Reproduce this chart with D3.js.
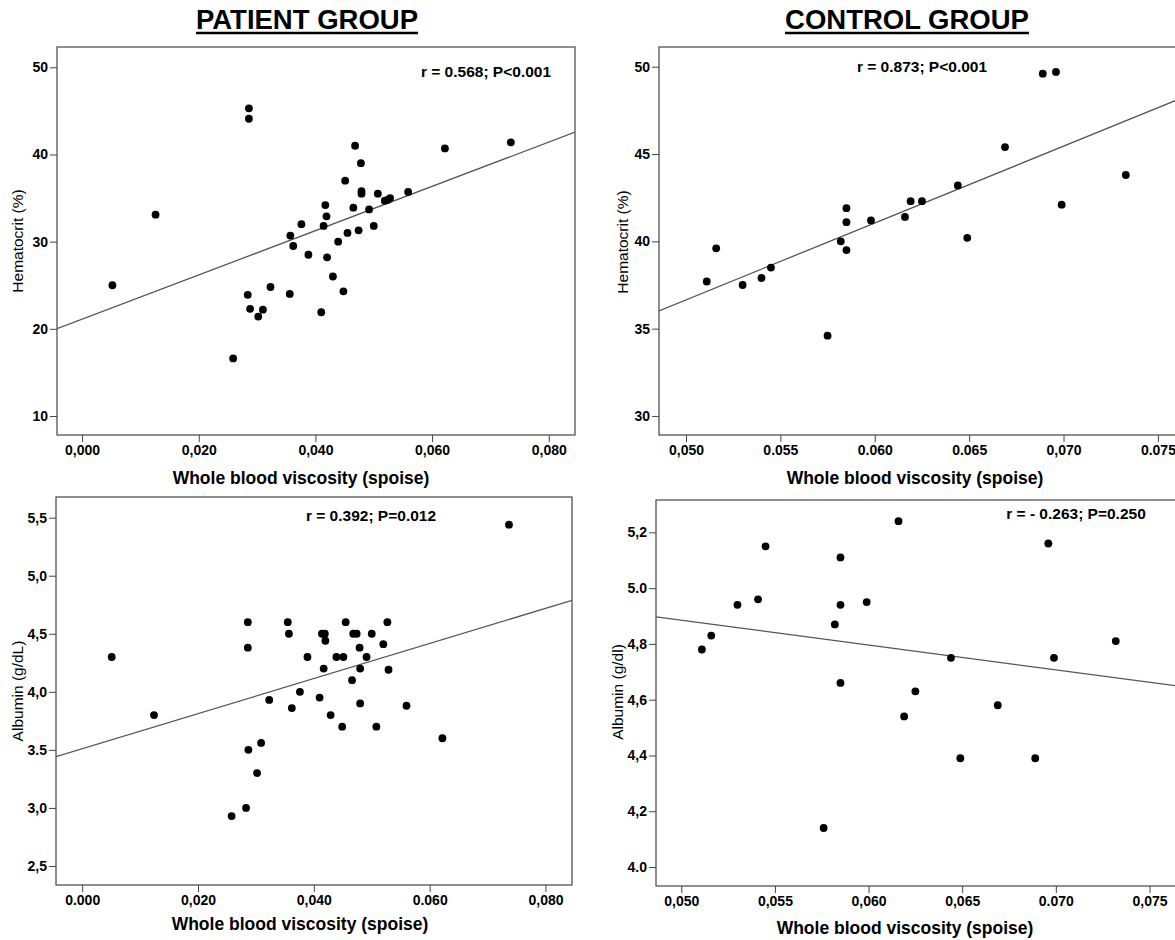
<!DOCTYPE html>
<html>
<head>
<meta charset="utf-8">
<script src="https://cdn.jsdelivr.net/npm/d3@7"></script>
<style>
  body { margin: 0; background: #fff; }
  text { font-family: 'Liberation Sans', Arial, sans-serif; }
</style>
</head>
<body>
<div id="chart"></div>
<script>
// patient group, hematocrit vs viscosity
let patHctVisc = [0.0052, 0.0126, 0.0286, 0.0286, 0.0284, 0.0288, 0.0302, 0.0310, 0.0323, 0.0259,
  0.0357, 0.0362, 0.0356, 0.0376, 0.0388, 0.0410, 0.0414, 0.0417, 0.0419, 0.0420,
  0.0430, 0.0439, 0.0448, 0.0451, 0.0455, 0.0465, 0.0468, 0.0474, 0.0478, 0.0479,
  0.0479, 0.0492, 0.0500, 0.0507, 0.0519, 0.0524, 0.0528, 0.0559, 0.0622, 0.0735]
let patHct = [25.0, 33.1, 45.3, 44.1, 23.9, 22.3, 21.4, 22.2, 24.8, 16.6,
  30.7, 29.5, 24.0, 32.0, 28.5, 21.9, 31.8, 34.2, 32.9, 28.2,
  26.0, 30.0, 24.3, 37.0, 31.0, 33.9, 41.0, 31.3, 39.0, 35.8,
  35.5, 33.7, 31.8, 35.5, 34.7, 34.8, 35.0, 35.7, 40.7, 41.4]

// patient group, albumin vs viscosity
let patAlbVisc = [0.0051, 0.0124, 0.0286, 0.0286, 0.0287, 0.0283, 0.0258, 0.0302, 0.0309, 0.0323,
  0.0355, 0.0357, 0.0362, 0.0376, 0.0389, 0.0410, 0.0414, 0.0419, 0.0420, 0.0417,
  0.0429, 0.0439, 0.0449, 0.0451, 0.0455, 0.0466, 0.0468, 0.0474, 0.0479, 0.0480,
  0.0480, 0.0491, 0.0500, 0.0508, 0.0520, 0.0527, 0.0529, 0.0560, 0.0622, 0.0737]
let patAlb = [4.30, 3.80, 4.60, 4.38, 3.50, 3.00, 2.93, 3.30, 3.56, 3.93,
  4.60, 4.50, 3.86, 4.00, 4.30, 3.95, 4.50, 4.50, 4.44, 4.20,
  3.80, 4.30, 3.70, 4.30, 4.60, 4.10, 4.50, 4.50, 4.38, 4.20,
  3.90, 4.30, 4.50, 3.70, 4.41, 4.60, 4.19, 3.88, 3.60, 5.44]

// control group, hematocrit vs viscosity
let conHctVisc = [0.0511, 0.0516, 0.0530, 0.0540, 0.0545, 0.0575, 0.0582, 0.0585, 0.0585, 0.0585,
  0.0598, 0.0616, 0.0619, 0.0625, 0.0644, 0.0649, 0.0669, 0.0689, 0.0696, 0.0699, 0.0733]
let conHct = [37.7, 39.6, 37.5, 37.9, 38.5, 34.6, 40.0, 39.5, 41.1, 41.9,
  41.2, 41.4, 42.3, 42.3, 43.2, 40.2, 45.4, 49.6, 49.7, 42.1, 43.8]

// control group, albumin vs viscosity
let conAlbVisc = [0.0511, 0.0516, 0.0530, 0.0541, 0.0545, 0.0576, 0.0582, 0.0585, 0.0585, 0.0585,
  0.0599, 0.0616, 0.0619, 0.0625, 0.0644, 0.0649, 0.0669, 0.0689, 0.0696, 0.0699, 0.0732]
let conAlb = [4.78, 4.83, 4.94, 4.96, 5.15, 4.14, 4.87, 4.94, 5.11, 4.66,
  4.95, 5.24, 4.54, 4.63, 4.75, 4.39, 4.58, 4.39, 5.16, 4.75, 4.81]

// fitted lines: [intercept, slope]
let patHctFit = [21.1, 254]
let patAlbFit = [3.51, 15.1]
let conHctFit = [14.65, 440]
let conAlbFit = [5.33, -8.9]

// ticks
let patXTicks = [0, 0.02, 0.04, 0.06, 0.08]
let patHctXLabels = ['0,000', '0,020', '0,040', '0,060', '0,080']
let patAlbXLabels = ['0.000', '0,020', '0,040', '0.060', '0,080']
let conXTicks = [0.05, 0.055, 0.06, 0.065, 0.07, 0.075]
let conHctXLabels = ['0,050', '0.055', '0.060', '0.065', '0,070', '0.075']
let conAlbXLabels = ['0,050', '0,055', '0,060', '0,065', '0.070', '0,075']
let patHctYTicks = [10, 20, 30, 40, 50]
let conHctYTicks = [30, 35, 40, 45, 50]
let patAlbYTicks = [2.5, 3.0, 3.5, 4.0, 4.5, 5.0, 5.5]
let patAlbYLabels = ['2,5', '3,0', '3.5', '4,0', '4,5', '5,0', '5,5']
let conAlbYTicks = [4.0, 4.2, 4.4, 4.6, 4.8, 5.0, 5.2]
let conAlbYLabels = ['4.0', '4,2', '4,4', '4,6', '4,8', '5.0', '5,2']

let width = 1175
let height = 940

let svg = d3
  .select('#chart')
  .append('svg')
  .attr('width', width)
  .attr('height', height)

let ink = '#000'
let frameColor = '#444'

// group headings
let headings = [
  { text: 'PATIENT GROUP', x: 307 },
  { text: 'CONTROL GROUP', x: 907 }
]
headings.forEach(h => {
  let t = svg
    .append('text')
    .attr('x', h.x)
    .attr('y', 29)
    .attr('text-anchor', 'middle')
    .attr('font-size', 27.5)
    .attr('font-weight', 'bold')
    .attr('fill', ink)
    .text(h.text)
  let w = t.node().getComputedTextLength()
  svg
    .append('line')
    .attr('x1', h.x - w / 2)
    .attr('x2', h.x + w / 2)
    .attr('y1', 33)
    .attr('y2', 33)
    .attr('stroke', ink)
    .attr('stroke-width', 2.4)
})

let panels = [
  {
    id: 'p1', left: 57, right: 575, top: 47, bottom: 435,
    xDomain: [-0.0043, 0.0845], yDomain: [7.82, 52.33],
    xs: patHctVisc, ys: patHct, fit: patHctFit,
    xTicks: patXTicks, xLabels: patHctXLabels,
    yTicks: patHctYTicks, yLabels: patHctYTicks.map(String),
    yTitle: 'Hematocrit (%)', yTitleX: 17, yTitleY: 241,
    xTitleX: 301, xTitleY: 478,
    note: 'r = 0.568; P<0.001', noteX: 486, noteY: 71
  },
  {
    id: 'p2', left: 659, right: 1180, top: 47, bottom: 435,
    xDomain: [0.04857, 0.07617], yDomain: [28.91, 51.13],
    xs: conHctVisc, ys: conHct, fit: conHctFit,
    xTicks: conXTicks, xLabels: conHctXLabels,
    yTicks: conHctYTicks, yLabels: conHctYTicks.map(String),
    yTitle: 'Hematocrit (%)', yTitleX: 622, yTitleY: 242,
    xTitleX: 915, xTitleY: 478,
    note: 'r = 0.873; P<0.001', noteX: 922, noteY: 66
  },
  {
    id: 'p3', left: 56, right: 572, top: 497, bottom: 885,
    xDomain: [-0.00452, 0.08458], yDomain: [2.336, 5.678],
    xs: patAlbVisc, ys: patAlb, fit: patAlbFit,
    xTicks: patXTicks, xLabels: patAlbXLabels,
    yTicks: patAlbYTicks, yLabels: patAlbYLabels,
    yTitle: 'Albumin (g/dL)', yTitleX: 17, yTitleY: 691,
    xTitleX: 300, xTitleY: 924,
    note: 'r = 0.392; P=0.012', noteX: 371, noteY: 515
  },
  {
    id: 'p4', left: 656, right: 1180, top: 500, bottom: 886,
    xDomain: [0.04865, 0.07663], yDomain: [3.932, 5.316],
    xs: conAlbVisc, ys: conAlb, fit: conAlbFit,
    xTicks: conXTicks, xLabels: conAlbXLabels,
    yTicks: conAlbYTicks, yLabels: conAlbYLabels,
    yTitle: 'Albumin (g/dl)', yTitleX: 617, yTitleY: 692,
    xTitleX: 905, xTitleY: 928,
    note: 'r = - 0.263; P=0.250', noteX: 1076, noteY: 513
  }
]

panels.forEach(p => {
  let x = d3.scaleLinear().domain(p.xDomain).range([p.left, p.right])
  let y = d3.scaleLinear().domain(p.yDomain).range([p.bottom, p.top])

  let g = svg.append('g')

  g.append('clipPath')
    .attr('id', 'clip-' + p.id)
    .append('rect')
    .attr('x', p.left)
    .attr('y', p.top)
    .attr('width', p.right - p.left)
    .attr('height', p.bottom - p.top)

  // axes
  let xAxis = g
    .append('g')
    .attr('transform', `translate(0,${p.bottom})`)
    .call(
      d3.axisBottom(x)
        .tickValues(p.xTicks)
        .tickSize(7)
        .tickPadding(3)
        .tickFormat((d, i) => p.xLabels[i])
    )
  let yAxis = g
    .append('g')
    .attr('transform', `translate(${p.left},0)`)
    .call(
      d3.axisLeft(y)
        .tickValues(p.yTicks)
        .tickSize(7)
        .tickPadding(2)
        .tickFormat((d, i) => p.yLabels[i])
    )
  ;[xAxis, yAxis].forEach(a => {
    a.select('.domain').remove()
    a.selectAll('line').attr('stroke', frameColor)
    a.selectAll('text')
      .attr('fill', ink)
      .attr('font-size', 14)
      .attr('font-weight', 'bold')
      .style('font-family', "'Liberation Sans', Arial, sans-serif")
  })

  // frame
  g.append('rect')
    .attr('x', p.left)
    .attr('y', p.top)
    .attr('width', p.right - p.left)
    .attr('height', p.bottom - p.top)
    .attr('fill', 'none')
    .attr('stroke', frameColor)
    .attr('stroke-width', 1.2)

  // regression line
  g.append('line')
    .attr('clip-path', `url(#clip-${p.id})`)
    .attr('x1', x(p.xDomain[0]))
    .attr('y1', y(p.fit[0] + p.fit[1] * p.xDomain[0]))
    .attr('x2', x(p.xDomain[1]))
    .attr('y2', y(p.fit[0] + p.fit[1] * p.xDomain[1]))
    .attr('stroke', '#555')
    .attr('stroke-width', 1.3)

  // points
  g.selectAll('.dot')
    .data(p.xs.map((v, i) => [v, p.ys[i]]))
    .enter()
    .append('circle')
    .attr('class', 'dot')
    .attr('cx', d => x(d[0]))
    .attr('cy', d => y(d[1]))
    .attr('r', 3.9)
    .attr('fill', ink)

  // titles
  g.append('text')
    .attr('x', p.xTitleX)
    .attr('y', p.xTitleY)
    .attr('text-anchor', 'middle')
    .attr('dominant-baseline', 'central')
    .attr('font-size', 17.5)
    .attr('font-weight', 'bold')
    .attr('fill', ink)
    .text('Whole blood viscosity (spoise)')

  g.append('text')
    .attr('transform', `translate(${p.yTitleX},${p.yTitleY}) rotate(-90)`)
    .attr('text-anchor', 'middle')
    .attr('dominant-baseline', 'central')
    .attr('font-size', 15.5)
    .attr('fill', ink)
    .text(p.yTitle)

  g.append('text')
    .attr('x', p.noteX)
    .attr('y', p.noteY)
    .attr('text-anchor', 'middle')
    .attr('dominant-baseline', 'central')
    .attr('font-size', 15.5)
    .attr('font-weight', 'bold')
    .attr('fill', ink)
    .text(p.note)
})
</script>
</body>
</html>
